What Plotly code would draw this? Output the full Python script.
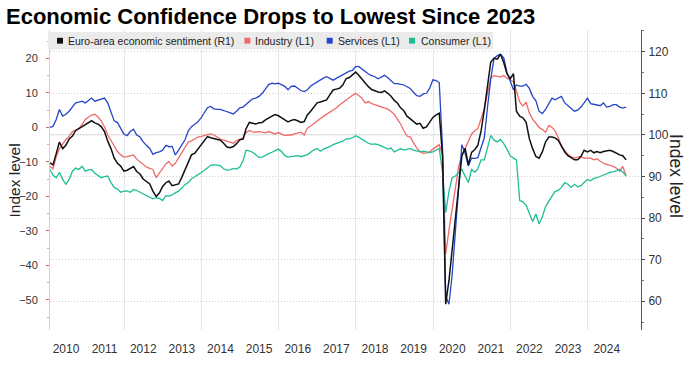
import pandas as pd
import plotly.graph_objects as go

# ---------------- data (monthly, Jan 2010 - Dec 2024) ----------------
dates = (pd.date_range("2010-01-01", periods=180, freq="MS") + pd.offsets.MonthEnd(0))

esi = [  # Euro-area economic sentiment (R1)
    93.3, 92.8, 95.5, 98.3, 96.7, 97.5, 99.0, 99.7, 101.0, 101.5, 101.8, 102.3,
    102.8, 103.4, 102.9, 102.6, 102.0, 100.8, 98.5, 96.7, 94.4, 93.2, 92.5, 91.3,
    91.5, 91.9, 92.4, 91.2, 90.6, 89.4, 88.8, 88.2, 86.5, 85.2, 86.0, 87.6,
    88.5, 88.9, 87.8, 88.0, 88.2, 89.8, 91.5, 93.5, 95.2, 95.6, 96.6, 97.9,
    98.8, 99.6, 99.3, 99.1, 99.0, 98.7, 98.0, 97.1, 96.9, 97.2, 97.9, 98.8,
    99.0, 101.5, 103.0, 102.8, 102.6, 102.9, 103.0, 103.6, 104.1, 104.5, 104.9, 104.6,
    104.1, 103.6, 103.1, 103.5, 103.7, 103.4, 103.0, 103.2, 104.8, 105.7, 106.8, 107.7,
    107.9, 108.2, 108.4, 109.6, 110.8, 111.0, 111.2, 112.0, 113.5, 113.8, 114.5, 115.1,
    114.3, 113.3, 112.5, 111.6, 110.9, 110.6, 110.3, 110.2, 110.6, 110.0, 109.3, 108.3,
    107.6, 106.5, 105.8, 104.5, 103.9, 103.3, 102.6, 102.8, 101.6, 101.9, 103.0, 104.2,
    104.8, 105.2, 95.0, 59.3, 65.0, 72.3, 79.6, 87.0, 95.0, 96.8, 92.8, 95.8,
    96.5, 97.5, 101.0, 106.0, 111.5, 117.5, 118.4, 118.2, 119.4, 117.4, 114.7, 113.5,
    114.7, 105.7, 104.5, 104.1, 103.0, 99.1, 96.7, 94.8, 94.4, 95.9, 98.3, 99.5,
    99.5, 99.3, 98.7, 97.4, 95.9, 95.0, 94.4, 94.0, 94.0, 94.8, 96.3, 95.9,
    96.3, 95.7, 96.0, 95.7, 96.0, 96.1, 96.3, 96.0, 95.6, 95.2, 95.0, 94.0,
]

industry = [  # Industry (L1)
    -11.3, -12.0, -8.5, -6.1, -4.8, -3.5, -2.6, -1.2, -0.8, -0.3, 0.8, 2.3,
    3.0, 3.6, 3.8, 3.0, 1.8, 0.2, -2.2, -3.8, -5.7, -7.0, -7.9, -8.6,
    -8.5, -8.3, -8.0, -9.2, -9.9, -10.7, -11.5, -11.9, -12.2, -14.6, -13.3, -11.9,
    -10.6, -9.9, -11.2, -10.4, -8.8, -7.1, -5.4, -4.2, -3.9, -3.4, -2.8, -2.6,
    -2.4, -2.1, -1.9, -2.2, -2.8, -3.4, -3.7, -4.0, -4.4, -4.6, -3.8, -3.5,
    -3.0, -1.5, -0.9, -1.3, -1.4, -1.2, -1.5, -1.6, -1.2, -1.6, -1.9, -1.5,
    -2.0, -2.4, -2.2, -2.2, -1.9, -1.6, -1.4, -2.2, -0.2, 0.4, 1.2, 1.9,
    2.6, 3.2, 3.8, 4.4, 4.9, 5.6, 6.5, 7.3, 8.0, 8.6, 9.3, 9.9,
    9.2, 8.5, 7.1, 7.5, 6.9, 6.6, 6.2, 5.9, 5.6, 5.3, 4.6, 3.8,
    2.3, 1.0, -0.9, -2.5, -2.8, -4.6, -6.0, -7.0, -7.5, -7.4, -7.1, -6.3,
    -5.6, -5.0, -8.0, -36.7, -29.8, -23.4, -17.1, -11.3, -8.3, -6.0, -4.2, -1.9,
    -1.0, -0.3, 2.5, 5.5, 10.0, 14.3, 15.0, 14.8, 14.6, 15.1, 14.2, 13.9,
    13.2, 10.5, 7.4, 6.2, 7.3, 4.2, 2.4, 1.2, 0.0, -0.6, -1.4, 0.6,
    0.0, -1.0, -3.0, -5.5, -6.8, -7.8, -8.5, -8.9, -8.6, -8.4, -8.9, -8.8,
    -8.9, -9.4, -9.1, -9.8, -10.4, -10.7, -10.9, -11.3, -11.8, -12.7, -11.3, -14.1,
]

services = [  # Services (L1)
    0.0, 0.3, 2.3, 5.2, 3.3, 3.8, 4.7, 6.1, 7.1, 7.3, 7.6, 7.1,
    7.8, 8.5, 7.6, 7.9, 8.3, 8.5, 7.1, 4.7, 1.9, 1.4, -0.3, -1.9,
    -2.4, -1.2, -0.5, -2.2, -2.8, -4.2, -5.2, -6.1, -7.8, -7.3, -7.1, -6.6,
    -5.2, -5.6, -5.5, -8.0, -6.6, -5.2, -3.6, -1.0, 0.2, 0.9, 1.6, 2.8,
    4.2, 5.7, 6.1, 5.4, 5.2, 5.2, 4.9, 4.5, 4.2, 3.9, 4.7, 5.7,
    5.9, 6.6, 7.6, 8.3, 8.5, 9.0, 9.9, 11.3, 12.4, 12.8, 12.6, 12.8,
    12.4, 11.9, 10.9, 11.9, 12.0, 11.4, 10.7, 10.4, 10.9, 12.0, 12.6, 13.2,
    13.9, 14.3, 14.7, 14.2, 13.7, 14.2, 14.7, 15.4, 15.7, 16.3, 16.5, 17.7,
    17.6, 16.9, 16.2, 15.5, 15.0, 14.7, 14.1, 14.7, 15.1, 14.4, 13.7, 12.7,
    12.7, 12.6, 12.3, 11.8, 11.3, 10.2, 9.2, 9.0, 9.7, 9.9, 11.3, 13.8,
    13.6, 13.0, -6.0, -49.0, -51.3, -42.8, -30.9, -19.1, -5.0, -7.5, -11.2, -8.9,
    -9.0, -8.8, -5.5, -3.0, 6.0, 14.0, 20.0, 20.8, 21.2, 20.2, 16.0, 13.5,
    10.9, 12.3, 12.0, 12.0, 12.5, 11.3, 9.0, 7.7, 4.7, 4.0, 5.2, 6.9,
    8.5, 8.0, 8.5, 9.0, 7.1, 6.3, 5.6, 4.7, 5.0, 5.9, 7.1, 8.5,
    6.9, 6.6, 6.5, 6.3, 7.1, 5.9, 6.1, 6.6, 6.6, 5.9, 5.6, 5.9,
]

consumer = [  # Consumer (L1)
    -12.2, -13.8, -14.6, -13.0, -15.1, -16.5, -15.1, -12.7, -11.8, -12.2, -11.3, -12.7,
    -12.3, -12.2, -13.3, -13.9, -14.6, -14.3, -14.1, -16.0, -17.4, -17.9, -18.8, -18.5,
    -18.4, -18.8, -18.0, -18.3, -18.8, -19.3, -19.8, -20.3, -20.7, -20.4, -20.6, -21.2,
    -19.8, -19.9, -19.6, -19.0, -18.5, -17.6, -16.6, -16.0, -14.9, -14.3, -13.8, -13.1,
    -12.4, -11.6, -11.0, -10.8, -10.9, -11.1, -12.0, -12.4, -12.3, -11.9, -12.1, -11.5,
    -9.6, -6.6, -6.8, -7.2, -7.9, -8.7, -8.6, -8.0, -7.6, -7.2, -6.7, -6.3,
    -7.0, -8.2, -8.6, -8.5, -8.3, -8.2, -8.5, -8.3, -7.9, -7.2, -6.5, -6.1,
    -6.9, -6.3, -6.0, -5.6, -5.0, -4.7, -4.3, -4.0, -3.3, -3.3, -3.0, -2.4,
    -2.9, -3.5, -4.2, -4.6, -4.9, -4.8, -5.0, -5.3, -5.8, -6.3, -6.0, -7.1,
    -6.5, -6.2, -6.6, -6.4, -6.1, -6.6, -6.8, -7.1, -6.9, -7.2, -7.3, -7.1,
    -6.6, -6.1, -13.0, -24.7, -18.5, -14.6, -14.1, -13.0, -12.2, -14.1, -16.0, -12.2,
    -13.0, -12.0, -9.4, -9.4, -6.0, -2.3, -3.7, -4.2, -3.5, -4.7, -6.3, -8.2,
    -8.9, -9.4, -21.2, -21.6, -22.6, -24.9, -27.3, -25.1, -28.0, -25.9, -23.0, -21.4,
    -19.8, -18.6, -18.2, -17.4, -16.0, -16.5, -17.4, -16.5, -17.2, -16.9, -16.0, -15.1,
    -15.5, -14.8, -14.6, -14.1, -13.8, -13.5, -13.0, -12.9, -12.5, -12.2, -12.9, -14.1,
]

years = list(range(2010, 2025))
year_labels = [str(y) for y in years]
left_ticks = [-50, -40, -30, -20, -10, 0, 10, 20]
right_ticks = [60, 70, 80, 90, 100, 110, 120]

TITLE = "Economic Confidence Drops to Lowest Since 2023"
NAMES = ["Euro-area economic sentiment (R1)", "Industry (L1)", "Services (L1)", "Consumer (L1)"]
COLORS = ["#111111", "#f06a6a", "#2445c8", "#1dbf95"]

# ---------------- geometry helpers (pixels -> paper) ----------------
W, H = 690, 368
L, R, T, B = 50, 49, 30, 30
PW, PH = W - L - R, H - T - B


def px(x):
    return (x - L) / PW


def py(y):
    return (H - B - y) / PH


FONT = "Liberation Sans, Arial, sans-serif"

fig = go.Figure()
fig.add_trace(go.Scatter(x=dates, y=industry, name=NAMES[1], mode="lines",
                         line=dict(color=COLORS[1], width=1.3), yaxis="y", showlegend=False))
fig.add_trace(go.Scatter(x=dates, y=consumer, name=NAMES[3], mode="lines",
                         line=dict(color=COLORS[3], width=1.3), yaxis="y", showlegend=False))
fig.add_trace(go.Scatter(x=dates, y=services, name=NAMES[2], mode="lines",
                         line=dict(color=COLORS[2], width=1.3), yaxis="y", showlegend=False))
fig.add_trace(go.Scatter(x=dates, y=esi, name=NAMES[0], mode="lines",
                         line=dict(color=COLORS[0], width=1.5), yaxis="y2", showlegend=False))

fig.update_layout(
    width=W, height=H,
    margin=dict(l=L, r=R, t=T, b=B),
    paper_bgcolor="white", plot_bgcolor="white",
    font=dict(family=FONT, color="#333333"),
    showlegend=False,
    xaxis=dict(
        type="date",
        range=["2010-01-31", "2025-05-21"],
        tickmode="array",
        tickvals=[f"{y}-07-01" for y in years],
        ticktext=year_labels,
        ticks="",
        showgrid=False,
        zeroline=False,
        showline=False,
        tickfont=dict(size=12, color="#333333"),
        ticklabelstandoff=10,
        minor=dict(tickmode="array",
                   tickvals=[f"{y}-01-01" for y in range(2012, 2025, 2)],
                   showgrid=True, gridcolor="#e6e6e6", gridwidth=1, ticks=""),
    ),
    yaxis=dict(
        range=[-58.757, 28.249],
        tickmode="array", tickvals=left_ticks,
        ticks="outside", ticklen=3, tickcolor="#e06060", tickwidth=1,
        showline=True, linecolor="#f3c4c4", linewidth=1,
        showgrid=False, zeroline=False,
        tickfont=dict(size=11, color="#333333"),
        ticklabelstandoff=6,
        minor=dict(tickmode="array", tickvals=[-55, -45, -35, -25, -15, -5, 5, 15, 25],
                   ticks="outside", ticklen=2, tickcolor="#f0a0a0", showgrid=False),
    ),
    yaxis2=dict(
        overlaying="y", side="right",
        range=[53.09, 125.22],
        tickmode="array", tickvals=right_ticks,
        ticks="outside", ticklen=3, tickcolor="#444444", tickwidth=1,
        showline=True, linecolor="#555555", linewidth=1,
        showgrid=True, gridcolor="#cfcfcf", gridwidth=1, griddash="1px,2px",
        zeroline=False,
        tickfont=dict(size=12, color="#333333"),
        ticklabelstandoff=1,
        minor=dict(tickmode="array", tickvals=[55, 65, 75, 85, 95, 105, 115, 125],
                   ticks="outside", ticklen=2, tickcolor="#777777", showgrid=False),
    ),
)

shapes = [
    dict(type="line", xref="paper", yref="y2", x0=0, x1=1, y0=100, y1=100,
         line=dict(color="#e0e0e0", width=1), layer="below"),
    dict(type="rect", xref="paper", yref="paper", x0=px(48), x1=px(493), y0=py(50), y1=py(32),
         fillcolor="#ebebeb", line=dict(width=0), layer="above"),
]
sq_x = [60, 247.4, 329.7, 412]
txt_x = [66, 253.3, 336, 418.5]
LEG_Y = 41
for cx, col in zip(sq_x, COLORS):
    shapes.append(dict(type="rect", xref="paper", yref="paper",
                       x0=px(cx - 3), x1=px(cx + 3), y0=py(LEG_Y + 3), y1=py(LEG_Y - 3),
                       fillcolor=col, line=dict(width=0), layer="above"))
fig.update_layout(shapes=shapes)

ann = [
    dict(text=f"<b>{TITLE}</b>", xref="paper", yref="paper", x=px(4), y=py(16),
         xanchor="left", yanchor="middle", showarrow=False,
         font=dict(size=22, color="#000000", family=FONT)),
    dict(text="Index level", xref="paper", yref="paper", x=px(14), y=py(184.5),
         xanchor="center", yanchor="middle", textangle=-90, showarrow=False,
         font=dict(size=15.5, color="#222222", family=FONT)),
    dict(text="Index level", xref="paper", yref="paper", x=px(676), y=py(180),
         xanchor="center", yanchor="middle", textangle=90, showarrow=False,
         font=dict(size=17.5, color="#222222", family=FONT)),
]
for tx, name in zip(txt_x, NAMES):
    ann.append(dict(text=name, xref="paper", yref="paper", x=px(tx), y=py(LEG_Y),
                    xanchor="left", yanchor="middle", showarrow=False,
                    font=dict(size=10.5, color="#222222", family=FONT)))
fig.update_layout(annotations=ann)

fig.write_html("out.html",
               config={"displayModeBar": False, "staticPlot": True},
               post_script="document.body.style.margin='0';document.body.style.padding='0';")
